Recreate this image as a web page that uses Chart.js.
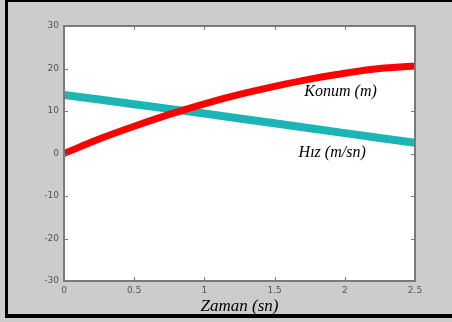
<!DOCTYPE html>
<html>
<head>
<meta charset="utf-8">
<script src="https://cdn.jsdelivr.net/npm/chart.js@4"></script>
<style>
  body { margin: 0; background: #cccccc; }
  #wrap { position: relative; width: 452px; height: 322px; overflow: hidden; }
  #frame { position: absolute; left: 5px; top: 0; width: 460px; height: 318px;
           border-left: 3px solid #000; border-top: 2px solid #000; border-bottom: 4px solid #000; box-sizing: border-box; }
  canvas { position: absolute; left: 0; top: 0; }
</style>
</head>
<body>
<div id="wrap">
  <canvas id="c" width="452" height="322"></canvas>
  <div id="frame"></div>
</div>
<script>
// time (sn)
const zaman = [0, 0.25, 0.5, 0.75, 1, 1.25, 1.5, 1.75, 2, 2.25, 2.5];
// position (m)
const konum = [0, 3.4, 6.4, 9.2, 11.7, 13.9, 15.8, 17.5, 18.9, 20.0, 20.6];
// speed (m/sn)
const hiz = [13.8, 12.7, 11.6, 10.5, 9.4, 8.25, 7.1, 5.95, 4.8, 3.65, 2.5];

const xTicks = [0, 0.5, 1, 1.5, 2, 2.5];
const yTicks = [-30, -20, -10, 0, 10, 20, 30];

// curve labels, placed in data units
const labels = [
    { text: 'Konum (m)', x: 1.97, y: 14.5 },
    { text: 'Hız (m/sn)', x: 1.91, y: 0.1 }
];

const toPoints = (ys) => zaman.map((t, i) => ({ x: t, y: ys[i] }));

// white plot box, grey frame and small inward ticks like matlab
const boxPlugin = {
    id: 'box',
    beforeDraw(chart) {
        const a = chart.chartArea, ctx = chart.ctx;
        ctx.save();
        ctx.fillStyle = '#ffffff';
        ctx.fillRect(a.left, a.top, a.right - a.left, a.bottom - a.top);
        ctx.restore();
    },
    afterDatasetsDraw(chart) {
        const a = chart.chartArea, ctx = chart.ctx;
        const xs = chart.scales.x, ys = chart.scales.y;
        ctx.save();
        ctx.strokeStyle = '#7a7a7a';
        ctx.lineWidth = 2;
        ctx.strokeRect(a.left, a.top, a.right - a.left, a.bottom - a.top);
        ctx.lineWidth = 1;
        ctx.beginPath();
        xTicks.forEach(v => {
            const px = Math.round(xs.getPixelForValue(v)) + 0.5;
            ctx.moveTo(px, a.bottom); ctx.lineTo(px, a.bottom - 4);
            ctx.moveTo(px, a.top); ctx.lineTo(px, a.top + 4);
        });
        yTicks.forEach(v => {
            const py = Math.round(ys.getPixelForValue(v)) + 0.5;
            ctx.moveTo(a.left, py); ctx.lineTo(a.left + 4, py);
            ctx.moveTo(a.right, py); ctx.lineTo(a.right - 4, py);
        });
        ctx.stroke();

        ctx.fillStyle = '#000';
        ctx.font = 'italic 16px "Liberation Serif", serif';
        ctx.textAlign = 'center';
        ctx.textBaseline = 'middle';
        labels.forEach(l => {
            ctx.fillText(l.text, xs.getPixelForValue(l.x), ys.getPixelForValue(l.y));
        });
        ctx.restore();
    }
};

new Chart(document.getElementById('c'), {
    type: 'line',
    data: {
        datasets: [
            {
                label: 'Konum (m)',
                data: toPoints(konum),
                borderColor: '#ff0000',
                borderWidth: 7,
                pointRadius: 0,
                cubicInterpolationMode: 'monotone'
            },
            {
                label: 'Hız (m/sn)',
                data: toPoints(hiz),
                borderColor: '#1bb5b5',
                borderWidth: 8,
                pointRadius: 0
            }
        ]
    },
    options: {
        responsive: false,
        animation: false,
        events: [],
        layout: { padding: { top: 26, right: 37, left: 0, bottom: 0 } },
        plugins: { legend: { display: false }, tooltip: { enabled: false } },
        scales: {
            x: {
                type: 'linear',
                min: 0, max: 2.5,
                afterFit: (s) => { s.height = 41; },
                afterBuildTicks: (s) => { s.ticks = xTicks.map(v => ({ value: v })); },
                grid: { display: false, drawTicks: false },
                border: { display: false },
                ticks: {
                    color: '#555', font: { size: 9, family: 'DejaVu Sans' }, padding: 4, maxRotation: 0,
                    callback: (v) => String(v)
                },
                title: {
                    display: true,
                    text: 'Zaman (sn)',
                    color: '#000',
                    font: { size: 17, style: 'italic', family: '"Liberation Serif", serif' },
                    padding: { top: 0, bottom: 5 }
                }
            },
            y: {
                min: -30, max: 30,
                afterFit: (s) => { s.width = 64; },
                afterBuildTicks: (s) => { s.ticks = yTicks.map(v => ({ value: v })); },
                grid: { display: false, drawTicks: false },
                border: { display: false },
                ticks: { color: '#555', font: { size: 9, family: 'DejaVu Sans' }, padding: 5 }
            }
        }
    },
    plugins: [boxPlugin]
});
</script>
</body>
</html>
